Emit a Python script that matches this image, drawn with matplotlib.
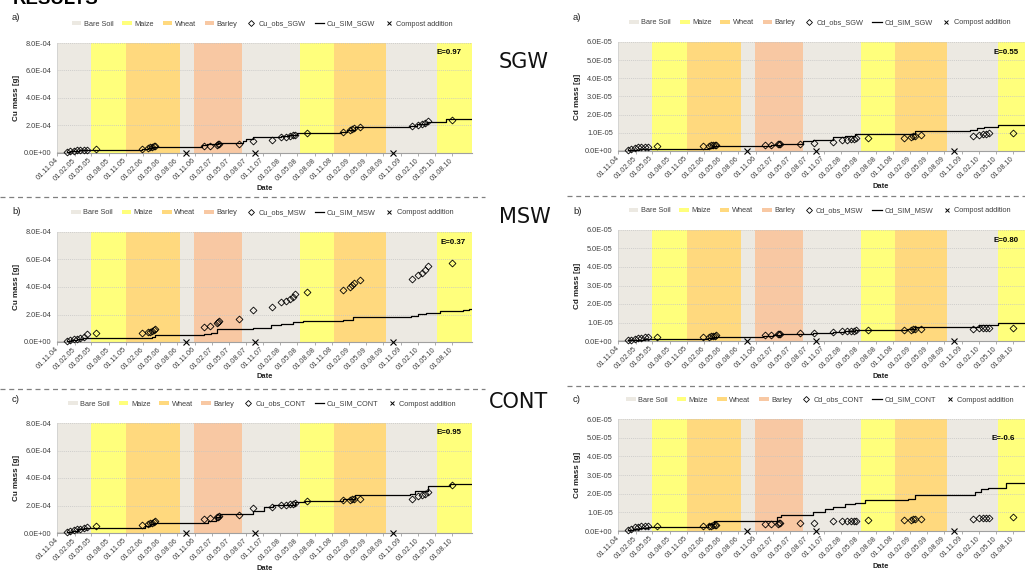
"""Cu and Cd mass in soil: observed vs simulated, three treatments (SGW, MSW, CONT)."""

import matplotlib
matplotlib.use("Agg")
import matplotlib.pyplot as plt
import matplotlib.patches as mpatches
from matplotlib.lines import Line2D
from matplotlib.ticker import FuncFormatter, MultipleLocator, FixedLocator
import matplotlib.dates as mdates
import numpy as np
import pandas as pd

plt.rcParams["font.family"] = ["Liberation Sans", "DejaVu Sans"]

W, H = 1025, 570

# ---- crop calendar -------------------------------------------------------
crop_names = ["Bare Soil", "Maize", "Wheat", "Barley"]
crop_colors = {"Bare Soil": "#ECE9E2", "Maize": "#FFFF7C", "Wheat": "#FFD97E", "Barley": "#F8C8A3"}
period_start = ["2004-11-01", "2005-05-01", "2005-11-01", "2006-08-17", "2006-10-28",
                "2007-07-12", "2008-05-15", "2008-11-10", "2009-08-16", "2010-05-15"]
period_end = ["2005-05-01", "2005-11-01", "2006-08-17", "2006-10-28", "2007-07-12",
              "2008-05-15", "2008-11-10", "2009-08-16", "2010-05-15", "2010-11-16"]
period_crop = ["Bare Soil", "Maize", "Wheat", "Bare Soil", "Barley",
               "Bare Soil", "Maize", "Wheat", "Bare Soil", "Maize"]

compost_dates = ["2006-09-15", "2007-09-18", "2009-09-22"]

x_start, x_end = "2004-11-01", "2010-11-16"

# ---- observation dates (shared by all panels) ----------------------------
obs_dates = [
    "2004-12-20", "2005-01-08", "2005-01-27", "2005-02-14", "2005-03-03", "2005-03-22", "2005-04-10", "2005-05-28",
    "2006-01-28", "2006-02-25", "2006-03-10", "2006-03-20", "2006-03-28", "2006-04-04",
    "2006-12-24", "2007-01-21", "2007-02-28", "2007-03-05", "2007-03-13", "2007-06-28",
    "2007-09-08", "2007-12-16", "2008-02-06", "2008-02-28", "2008-03-21", "2008-04-08", "2008-04-21", "2008-06-21",
    "2009-01-01", "2009-02-06", "2009-02-16", "2009-02-27", "2009-03-28",
    "2009-12-30", "2010-02-03", "2010-02-22", "2010-03-10", "2010-03-28", "2010-07-30",
]

# ---- Cu (values in 1e-5 g) -----------------------------------------------
cu_sgw_obs = [0.6, 1.1, 1.6, 2.0, 2.2, 2.4, 2.5, 2.7,
              2.9, 3.4, 4.1, 4.6, 4.8, 5.1,
              5.3, 5.3, 6.1, 6.3, 6.5, 6.3,
              8.4, 9.6, 11.4, 11.8, 12.3, 12.8, 13.3, 14.2,
              15.0, 16.5, 17.5, 18.2, 19.2,
              19.9, 20.7, 21.2, 21.7, 23.0, 24.0]
cu_sgw_sim_dates = ["2004-11-01", "2004-12-20", "2005-01-10", "2005-02-01", "2005-02-25", "2005-03-20",
                    "2006-01-25", "2006-02-25", "2006-03-20", "2006-12-10", "2007-01-05", "2007-03-05",
                    "2007-07-15", "2007-08-01", "2007-09-10", "2008-02-05", "2008-03-15", "2008-05-01",
                    "2008-12-20", "2009-01-20", "2009-03-01", "2009-12-20", "2010-01-25", "2010-03-20",
                    "2010-07-01", "2010-11-16"]
cu_sgw_sim = [0, 0.6, 1.2, 1.7, 2.1, 2.4,
              3.0, 3.8, 4.6, 5.5, 6.3, 7.5,
              9.0, 10.0, 11.6, 12.5, 13.3, 14.5,
              15.5, 17.0, 18.7, 19.7, 21.0, 22.5,
              24.7, 24.7]

cu_msw_obs = [0.8, 1.2, 1.9, 2.5, 3.1, 3.6, 5.5, 6.5,
              6.2, 7.0, 7.5, 8.0, 8.5, 9.2,
              11.0, 11.8, 14.0, 14.5, 15.5, 16.8,
              23.0, 25.5, 29.0, 30.0, 31.5, 33.0, 35.0, 36.5,
              38.0, 40.0, 41.5, 43.0, 45.0,
              45.5, 48.5, 50.5, 52.0, 55.5, 57.8]
cu_msw_sim_dates = ["2004-11-01", "2004-12-20", "2005-01-15", "2005-02-15", "2005-03-20", "2006-03-20",
                    "2006-04-05", "2006-12-20", "2007-01-25", "2007-03-01", "2007-03-20", "2007-09-10",
                    "2007-12-15", "2008-02-05", "2008-04-10", "2008-06-01", "2009-01-01", "2009-02-20",
                    "2009-12-25", "2010-02-01", "2010-03-15", "2010-06-01", "2010-10-01", "2010-11-01",
                    "2010-11-16"]
cu_msw_sim = [0, 0.8, 1.6, 2.4, 3.0, 4.0,
              5.2, 5.6, 6.3, 9.2, 9.7, 10.5,
              12.2, 13.2, 14.2, 15.0, 15.8, 18.0,
              19.0, 20.5, 21.2, 22.7, 23.5, 24.2,
              24.2]

cu_cont_obs = [0.7, 1.4, 1.9, 2.6, 3.1, 3.6, 4.1, 5.0,
               5.8, 6.6, 7.2, 7.6, 8.0, 8.4,
               10.0, 10.6, 11.5, 12.0, 12.7, 13.2,
               18.0, 19.0, 20.2, 20.6, 21.0, 21.4, 21.8, 23.5,
               24.0, 24.2, 25.0, 24.8, 24.5,
               24.8, 26.8, 27.5, 28.3, 30.0, 35.0]
cu_cont_sim_dates = ["2004-11-01", "2004-12-20", "2005-01-20", "2005-02-20", "2005-03-25", "2006-02-10",
                     "2006-03-10", "2006-04-01", "2007-01-10", "2007-02-25", "2007-03-15", "2007-09-08",
                     "2007-11-07", "2007-12-25", "2008-04-20", "2008-06-10", "2009-01-01", "2009-03-01",
                     "2009-12-20", "2010-01-15", "2010-03-28", "2010-07-20", "2010-11-16"]
cu_cont_sim = [0, 0.8, 1.8, 2.7, 3.6, 5.0,
               6.5, 7.5, 9.0, 11.5, 13.5, 15.8,
               18.6, 20.5, 22.5, 23.5, 24.5, 27.8,
               28.5, 30.3, 33.9, 35.8, 35.8]

# ---- Cd (values in 1e-6 g) -----------------------------------------------
cd_sgw_obs = [0.5, 1.0, 1.7, 2.0, 2.2, 2.3, 2.4, 2.7,
              2.7, 2.9, 3.2, 3.4, 3.5, 3.4,
              3.4, 3.5, 3.7, 3.8, 4.0, 3.9,
              4.5, 5.2, 6.0, 6.3, 6.4, 6.6, 6.9, 6.9,
              7.1, 7.6, 8.0, 8.4, 8.6,
              8.5, 9.0, 9.4, 9.6, 9.7, 10.0]
cd_sgw_sim_dates = ["2004-11-01", "2004-12-23", "2005-01-20", "2005-02-20", "2005-03-20", "2006-02-22",
                    "2006-03-20", "2006-12-04", "2007-01-20", "2007-03-18", "2007-07-10", "2007-09-04",
                    "2007-12-19", "2008-02-19", "2008-04-12", "2009-01-16", "2009-02-28", "2009-12-15",
                    "2010-01-20", "2010-03-01", "2010-05-13", "2010-11-16"]
cd_sgw_sim = [0, 0.3, 0.7, 1.0, 1.2, 1.8,
              2.6, 3.0, 3.5, 4.0, 5.3, 6.0,
              7.8, 8.5, 9.1, 9.6, 10.9, 11.5,
              12.5, 13.4, 14.4, 14.4]

cd_msw_obs = [0.3, 0.8, 1.3, 1.6, 1.8, 1.9, 2.0, 2.0,
              2.0, 2.2, 2.5, 2.7, 2.9, 3.0,
              3.1, 3.2, 3.6, 3.7, 3.9, 4.1,
              4.4, 4.8, 5.3, 5.4, 5.5, 5.6, 5.8, 5.8,
              5.8, 6.0, 6.3, 6.5, 6.7,
              6.7, 6.9, 7.0, 7.0, 7.1, 7.2]
cd_msw_sim_dates = ["2004-11-01", "2004-12-23", "2005-02-01", "2005-03-20", "2006-02-22", "2006-03-25",
                    "2006-12-10", "2007-02-01", "2007-03-18", "2007-09-04", "2007-12-19", "2008-02-20",
                    "2008-04-12", "2008-06-01", "2009-01-16", "2009-02-28", "2009-12-15", "2010-02-01",
                    "2010-03-15", "2010-05-13", "2010-11-16"]
cd_msw_sim = [0, 0.4, 0.8, 1.1, 1.6, 2.2,
              2.6, 3.2, 3.6, 4.3, 4.7, 5.3,
              5.8, 6.2, 6.4, 7.3, 7.7, 8.4,
              8.9, 9.9, 9.9]

cd_cont_obs = [0.5, 1.2, 1.9, 2.3, 2.5, 2.6, 2.7, 2.7,
               2.7, 2.8, 2.9, 3.0, 3.0, 3.1,
               3.7, 3.8, 4.0, 4.2, 4.3, 4.5,
               4.5, 5.2, 5.2, 5.3, 5.3, 5.4, 5.4, 5.8,
               5.9, 6.1, 6.3, 6.4, 6.5,
               6.5, 6.7, 6.8, 6.8, 7.0, 7.3]
cd_cont_sim_dates = ["2004-11-01", "2004-12-23", "2005-01-20", "2005-02-20", "2005-04-07", "2006-02-22",
                     "2006-03-25", "2007-02-25", "2007-03-18", "2007-09-04", "2007-11-07", "2007-12-19",
                     "2008-02-19", "2008-04-12", "2008-06-03", "2009-01-20", "2009-02-28", "2010-01-12",
                     "2010-02-15", "2010-03-22", "2010-06-27", "2010-11-16"]
cd_cont_sim = [0, 0.5, 1.2, 1.8, 2.3, 3.5,
               5.4, 7.6, 8.5, 10.3, 12.0, 13.0,
               14.2, 15.1, 16.6, 17.0, 19.3, 21.0,
               22.5, 22.9, 25.6, 25.6]

e_values = {"Cu_SGW": "E=0.97", "Cu_MSW": "E=0.37", "Cu_CONT": "E=0.95",
            "Cd_SGW": "E=0.55", "Cd_MSW": "E=0.80", "Cd_CONT": "E=-0.6"}

tick_dates = pd.date_range("2004-11-01", "2010-08-01", freq="3MS")

TXT = "#404040"
FS = 5.3


def fx(px):
    return px / W


def fy(py):
    return 1 - py / H


def add_panel(fig, box, metal, site, obs, sim_dates, sim_vals, scale, ymax, ystep,
              e_pos, panel_label, label_pos, date_x):
    left, top, right, bottom = box
    ax = fig.add_axes([fx(left), fy(bottom), (right - left) / W, (bottom - top) / H])
    for s, e, c in zip(period_start, period_end, period_crop):
        ax.axvspan(pd.Timestamp(s), pd.Timestamp(e), color=crop_colors[c], lw=0, zorder=0)

    ax.step(pd.to_datetime(sim_dates), np.array(sim_vals) * scale, where="post",
            color="black", lw=0.9, zorder=3)
    ax.plot(pd.to_datetime(obs_dates), np.array(obs) * scale, ls="none", marker="D", ms=3.5,
            mfc="none", mec="black", mew=0.6, zorder=4, clip_on=False)
    ax.plot(pd.to_datetime(compost_dates), np.zeros(len(compost_dates)), ls="none", marker="x",
            ms=3.8, mew=0.8, color="black", zorder=5, clip_on=False)

    ax.set_xlim(pd.Timestamp(x_start), pd.Timestamp(x_end))
    ax.set_ylim(0, ymax)
    ax.xaxis.set_major_locator(FixedLocator(mdates.date2num(tick_dates)))
    ax.xaxis.set_major_formatter(mdates.DateFormatter("%d.%m.%y"))
    ax.yaxis.set_major_locator(MultipleLocator(ystep))
    ax.yaxis.set_major_formatter(FuncFormatter(lambda v, _: f"{v:.1E}"))
    ax.tick_params(axis="x", length=2.5, width=0.6, color="#A0A0A0", pad=2, labelsize=FS, labelcolor=TXT)
    ax.tick_params(axis="y", length=0, pad=4, labelsize=FS, labelcolor=TXT)
    for lab in ax.get_xticklabels():
        lab.set_rotation(45)
        lab.set_ha("right")
        lab.set_va("center")
        lab.set_rotation_mode("anchor")

    ax.set_axisbelow("line")
    ax.yaxis.grid(True, color="#C4C4C4", ls=(0, (1.5, 1.5)), lw=0.5)
    for side in ("top", "right"):
        ax.spines[side].set_visible(False)
    ax.spines["left"].set_color("#D0D0D0")
    ax.spines["left"].set_linewidth(0.6)
    ax.spines["bottom"].set_color("#A0A0A0")
    ax.spines["bottom"].set_linewidth(0.8)

    handles = [mpatches.Patch(facecolor=crop_colors[c], edgecolor="none") for c in crop_names]
    handles += [
        Line2D([], [], ls="none", marker="D", ms=3, mfc="none", mec="black", mew=0.6),
        Line2D([], [], color="black", lw=0.9),
        Line2D([], [], ls="none", marker="x", ms=3.5, mew=0.7, color="black"),
    ]
    labels = crop_names + [f"{metal}_obs_{site}", f"{metal}_SIM_{site}", "Compost addition"]
    height = bottom - top
    width = right - left
    leg_cx = 0.494 if left < 300 else 0.486
    ax.legend(handles, labels, loc="center", bbox_to_anchor=(leg_cx, 1 + 19 / height), ncol=7,
              frameon=False, fontsize=FS, handlelength=1.3, handleheight=0.55, handletextpad=0.35,
              columnspacing=1.2, labelcolor=TXT, borderaxespad=0)

    ex, ey = e_pos
    ax.text((ex - left) / width, 1 - (ey - top) / height, e_values[f"{metal}_{site}"],
            transform=ax.transAxes, ha="left", va="center", fontsize=5.7, fontweight="bold")

    ylab_x = left - 40.5
    fig.text(fx(ylab_x), fy((top + bottom) / 2), f"{metal} mass [g]", rotation=90,
             ha="center", va="center", fontsize=5.8, fontweight="bold", color="#202020")
    fig.text(fx(date_x), fy(bottom + 35), "Date", ha="center", va="center",
             fontsize=5.4, fontweight="bold", color="#202020")
    fig.text(fx(label_pos[0]), fy(label_pos[1]), panel_label, ha="left", va="center",
             fontsize=6.8, color="#202020")
    return ax


fig = plt.figure(figsize=(W / 100, H / 100), dpi=100)
fig.patch.set_facecolor("white")

L0, L1 = 57.3, 472.0
R0, R1 = 618.3, 1033.0

add_panel(fig, (L0, 43, L1, 153), "Cu", "SGW", cu_sgw_obs, cu_sgw_sim_dates, cu_sgw_sim, 1e-5,
          8e-4, 2e-4, (437, 53), "a)", (12, 18), 265)
add_panel(fig, (L0, 232, L1, 342), "Cu", "MSW", cu_msw_obs, cu_msw_sim_dates, cu_msw_sim, 1e-5,
          8e-4, 2e-4, (441, 243), "b)", (12, 212), 265)
add_panel(fig, (L0, 423, L1, 533), "Cu", "CONT", cu_cont_obs, cu_cont_sim_dates, cu_cont_sim, 1e-5,
          8e-4, 2e-4, (437, 433), "c)", (12, 400), 265)
add_panel(fig, (R0, 42, R1, 151), "Cd", "SGW", cd_sgw_obs, cd_sgw_sim_dates, cd_sgw_sim, 1e-6,
          6e-5, 1e-5, (993, 53), "a)", (573, 17), 881)
add_panel(fig, (R0, 230, R1, 341), "Cd", "MSW", cd_msw_obs, cd_msw_sim_dates, cd_msw_sim, 1e-6,
          6e-5, 1e-5, (993, 241), "b)", (573, 211), 881)
add_panel(fig, (R0, 419, R1, 531), "Cd", "CONT", cd_cont_obs, cd_cont_sim_dates, cd_cont_sim, 1e-6,
          6e-5, 1e-5, (992, 438), "c)", (573, 400), 881)

# dashed separators between the rows
for x0, x1, y in [(0, 485, 197), (567, 1025, 196), (0, 485, 389), (567, 1025, 386)]:
    fig.add_artist(Line2D([fx(x0), fx(x1)], [fy(y), fy(y)], transform=fig.transFigure,
                          color="#808080", lw=0.9, ls=(0, (4, 3))))

# treatment names in the middle
for name, cx, base in [("SGW", 524, 68), ("MSW", 525, 223), ("CONT", 518, 408)]:
    fig.text(fx(cx), fy(base), name, ha="center", va="baseline", fontsize=15,
             family="DejaVu Sans", color="#111111")

fig.text(fx(13), fy(4), "RESULTS", ha="left", va="baseline", fontsize=13.4, fontweight="bold")

fig.savefig("out.png", dpi=100)
